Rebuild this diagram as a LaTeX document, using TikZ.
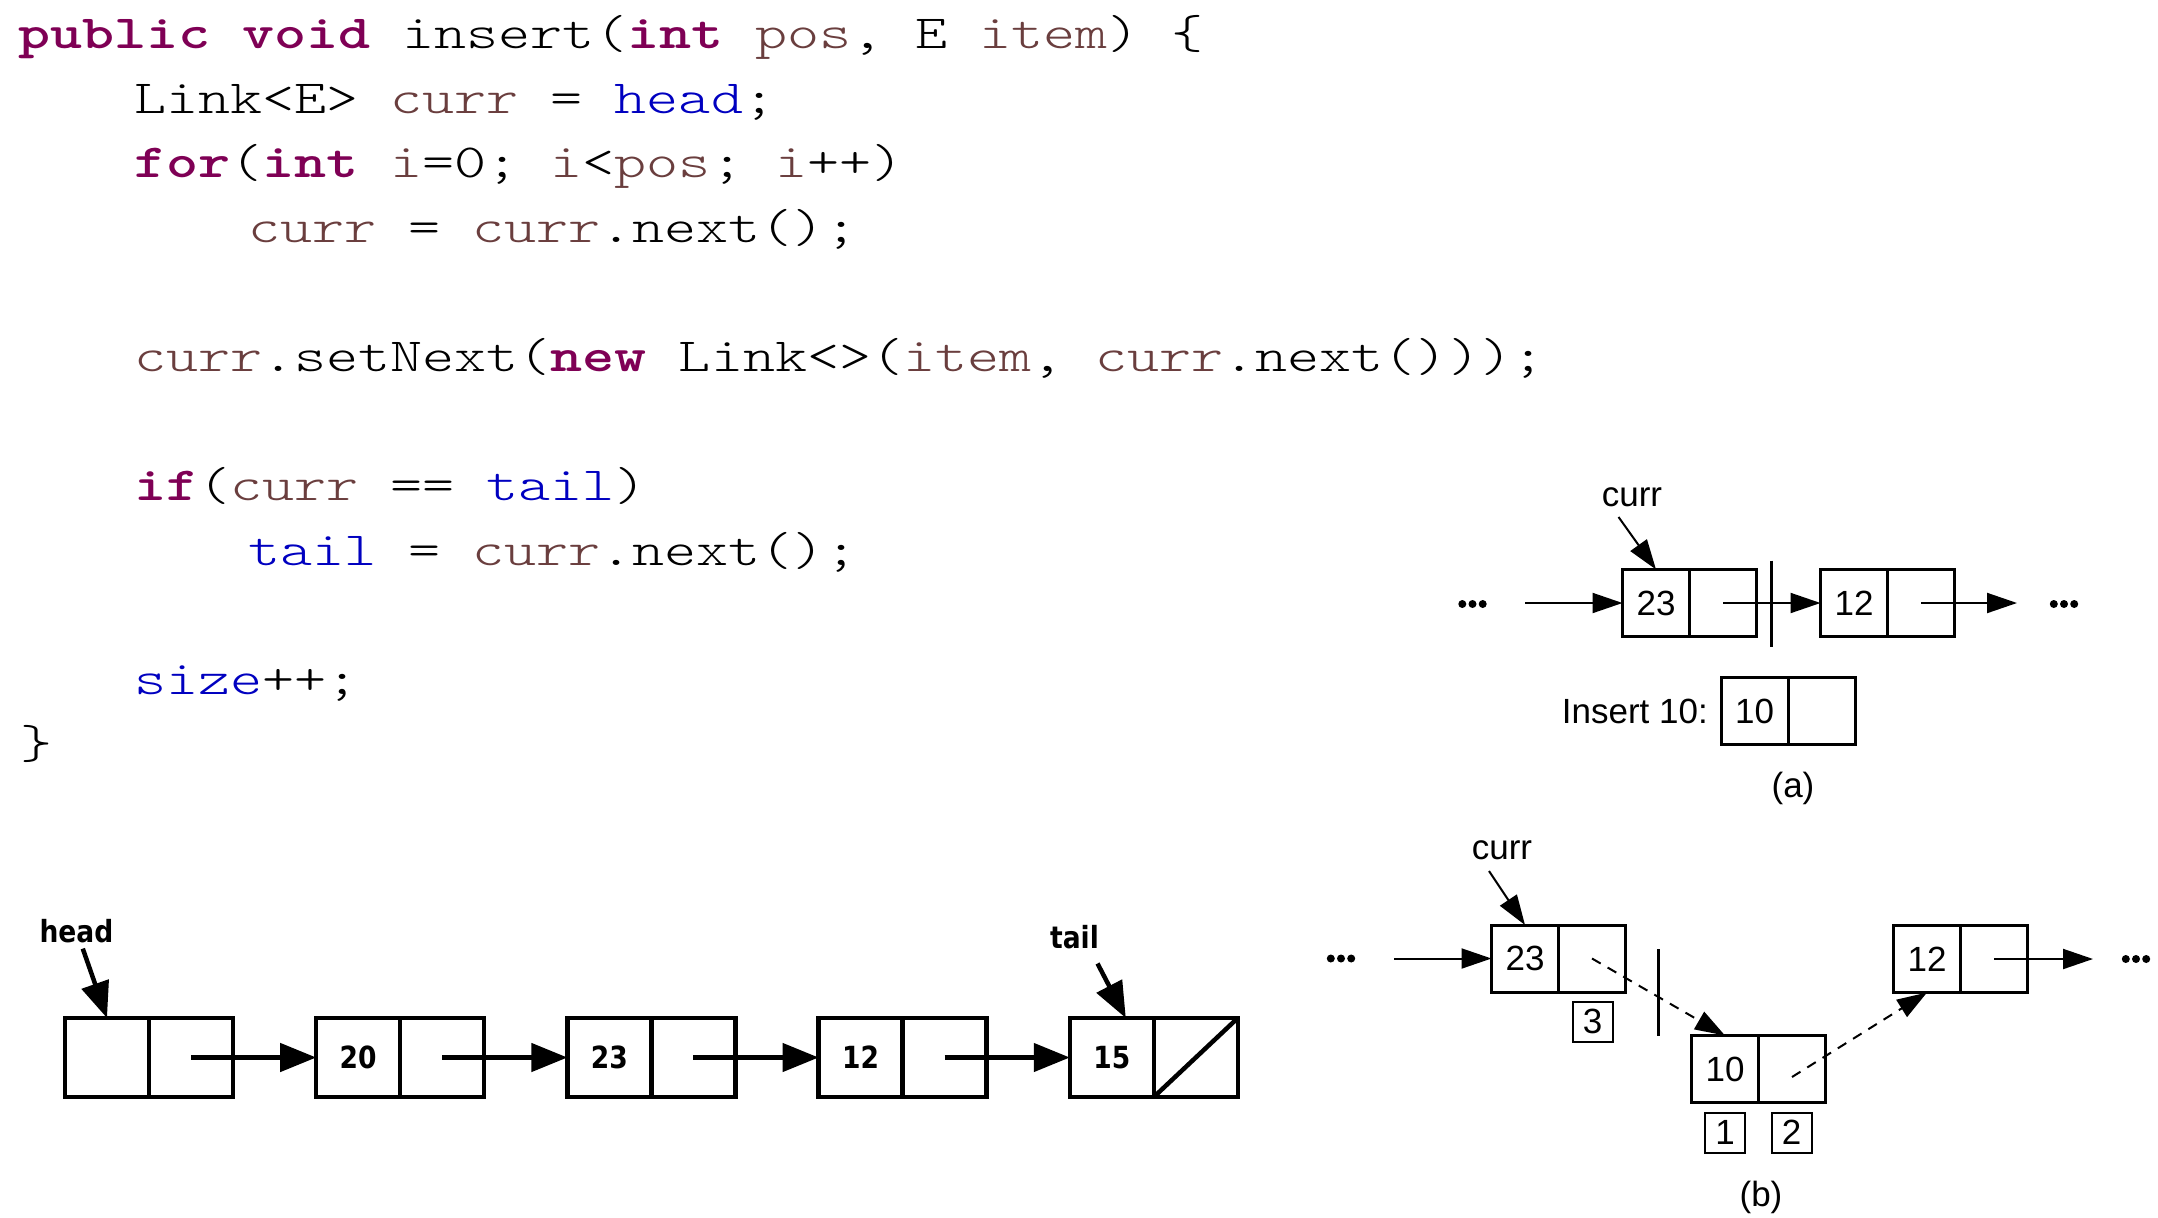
\documentclass[tikz,border=0pt]{standalone}
\usepackage{fontspec}
\usetikzlibrary{arrows.meta}
\newfontfamily\codefont{lmmonolt10-regular.otf}[BoldFont=lmmonolt10-bold.otf, FakeStretch=1.285]
\newfontfamily\figfont{Liberation Sans}
\newfontfamily\listfont[FakeStretch=0.87]{DejaVu Sans}
\definecolor{kwcol}{HTML}{7F0055}
\definecolor{varcol}{HTML}{6A3E3E}
\definecolor{fldcol}{HTML}{0000C0}
\newcommand\KwT[1]{{\bfseries\color{kwcol}#1}}
\newcommand\VarT[1]{{\color{varcol}#1}}
\newcommand\FldT[1]{{\color{fldcol}#1}}
\tikzset{
  code/.style={anchor=base west, inner sep=0pt, font=\codefont\fontsize{47.5}{60}\selectfont},
  lcell/.style={draw, line width=4.5pt, minimum width=84pt, minimum height=79pt, inner sep=0pt, outer sep=0pt,
    font=\listfont\bfseries\fontsize{30.5}{36}\selectfont},
  lptr/.style={-{Triangle[length=36pt,width=28pt]}, line width=4.5pt},
  lbl/.style={font=\listfont\bfseries\fontsize{30.5}{36}\selectfont, inner sep=6pt},
  fcell/.style={draw, line width=3pt, minimum width=67pt, minimum height=67pt, inner sep=0pt, outer sep=0pt,
    font=\figfont\fontsize{35}{42}\selectfont},
  fptr/.style={-{Triangle[length=30pt,width=20pt]}, line width=2pt},
  fdash/.style={fptr, dash pattern=on 10pt off 8pt},
  stepno/.style={draw, line width=2pt, minimum width=40pt, minimum height=40pt, inner sep=0pt,
    font=\figfont\fontsize{35}{42}\selectfont},
  ftext/.style={font=\figfont\fontsize{35}{42}\selectfont, inner sep=0pt},
  bar/.style={line width=3pt}
}
% three bold dots centred on a named coordinate
\newcommand\DotRow[1]{\foreach \dx in {-10.2,0,10.2} {\fill ([xshift=\dx pt]#1) circle (4pt);}}
\begin{document}
\begin{tikzpicture}[x=1pt,y=-1pt]
\fill[white] (0,0) rectangle (2158,1218);
\useasboundingbox (0,0) rectangle (2158,1218);

% ---- source code ----
\node[code] (c1) at (18,48) {\KwT{public} \KwT{void} insert(\KwT{int} \VarT{pos}, E \VarT{item}) \{};
\node[code] (c2) at (134,113) {Link<E> \VarT{curr} = \FldT{head};};
\node[code] (c3) at (134,177.5) {\KwT{for}(\KwT{int} \VarT{i}=0; \VarT{i}<\VarT{pos}; \VarT{i}++)};
\node[code] (c4) at (248,242) {\VarT{curr} = \VarT{curr}.next();};
\node[code] (c5) at (134,371) {\VarT{curr}.setNext(\KwT{new} Link<>(\VarT{item}, \VarT{curr}.next()));};
\node[code] (c6) at (134,500) {\KwT{if}(\VarT{curr} == \FldT{tail})};
\node[code] (c7) at (248,565) {\FldT{tail} = \VarT{curr}.next();};
\node[code] (c8) at (134,694) {\FldT{size}++;};
\node[code] (c9) at (20,758.6) {\}};

% ---- list with head and tail ----
\node[lcell] (b1d) at (107,1057.5) {};
\node[lcell] (b1p) at (191,1057.5) {};
\node[lcell] (b2d) at (358.2,1057.5) {20};
\node[lcell] (b2p) at (442.2,1057.5) {};
\node[lcell] (b3d) at (609.4,1057.5) {23};
\node[lcell] (b3p) at (693.4,1057.5) {};
\node[lcell] (b4d) at (860.6,1057.5) {12};
\node[lcell] (b4p) at (944.6,1057.5) {};
\node[lcell] (b5d) at (1111.8,1057.5) {15};
\node[lcell] (b5p) at (1195.8,1057.5) {};
\draw[line width=4.5pt] (b5p.south west) -- (b5p.north east);
\draw[lptr] (b1p.center) -- (b2d.west);
\draw[lptr] (b2p.center) -- (b3d.west);
\draw[lptr] (b3p.center) -- (b4d.west);
\draw[lptr] (b4p.center) -- (b5d.west);
\node[lbl, anchor=base] (head) at (76.5,942) {head};
\draw[lptr] (head) -- (b1d.north);
\node[lbl, anchor=base] (tail) at (1074.5,948.5) {tail};
\coordinate (tailfrom) at (1097.5,963.5);
\draw[lptr] (tailfrom) -- ([xshift=14pt]b5d.north);

% ---- (a) before insertion ----
\node[fcell] (a23d) at (1656,603) {23};
\node[fcell] (a23p) at (1723,603) {};
\node[fcell] (a12d) at (1854,603) {12};
\node[fcell] (a12p) at (1921,603) {};
\coordinate (adotl) at (1472.5,604);
\coordinate (adotr) at (2064,604);
\DotRow{adotl}
\DotRow{adotr}
\coordinate (ain) at (1525,603);
\coordinate (aout) at (2017,603);
\draw[fptr] (ain) -- (a23d.west);
\draw[fptr] (a23p.center) -- (a12d.west);
\draw[fptr] (a12p.center) -- (aout);
\draw[bar] (1771.5,560.5) -- (1771.5,647);
\node[ftext] (acurr) at (1632,497) {curr};
\coordinate (acurrfrom) at (1618.5,517);
\draw[fptr] (acurrfrom) -- (a23d.north);
\node[fcell] (a10d) at (1754.5,711) {10};
\node[fcell] (a10p) at (1821.5,711) {};
\node[ftext, anchor=base east] (ains) at (1708,723) {Insert 10:};
\node[ftext] (acap) at (1793,788) {(a)};

% ---- (b) after insertion ----
\node[fcell] (b23d) at (1525,958.5) {23};
\node[fcell] (b23p) at (1592,958.5) {};
\node[fcell] (b10d) at (1725,1069) {10};
\node[fcell] (b10p) at (1792,1069) {};
\node[fcell] (b12d) at (1927,959) {12};
\node[fcell] (b12p) at (1994,959) {};
\node[stepno] (s3) at (1592.5,1021.5) {3};
\node[stepno] (s1) at (1725,1132.5) {1};
\node[stepno] (s2) at (1791.5,1132.5) {2};
\coordinate (bdotl) at (1341,958.5);
\coordinate (bdotr) at (2136,959);
\DotRow{bdotl}
\DotRow{bdotr}
\coordinate (bin) at (1394,958.5);
\coordinate (bout) at (2093,959);
\draw[fptr] (bin) -- (b23d.west);
\draw[fdash] (b23p.center) -- (b10d.north);
\draw[fdash] ([yshift=-8pt]b10p.center) -- (b12d.south);
\draw[fptr] (b12p.center) -- (bout);
\draw[bar] (1658,949) -- (1658,1036);
\node[ftext] (bcurr) at (1502,850) {curr};
\coordinate (bcurrfrom) at (1489,871);
\draw[fptr] (bcurrfrom) -- (b23d.north);
\node[ftext] (bcap) at (1761,1197) {(b)};
\end{tikzpicture}
\end{document}
